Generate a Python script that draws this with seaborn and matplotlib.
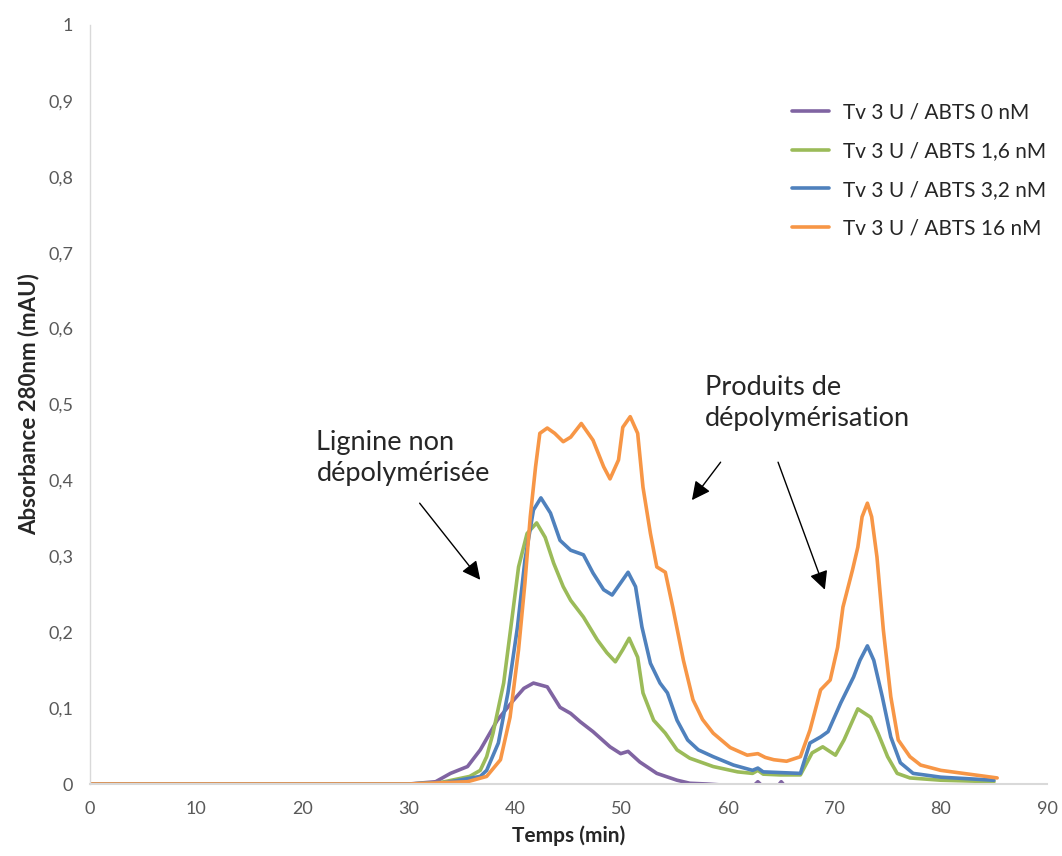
import matplotlib
matplotlib.use("Agg")
from matplotlib import pyplot as plt
import pandas as pd
import seaborn as sns

labels = ["Tv 3 U / ABTS 0 nM", "Tv 3 U / ABTS 1,6 nM",
          "Tv 3 U / ABTS 3,2 nM", "Tv 3 U / ABTS 16 nM"]
colors = ["#8064A2", "#9BBB59", "#4F81BD", "#F79646"]

# 0 nM
x0 = [0, 30, 32.5, 33.9, 35.5, 36.7, 38.3, 39.8, 40.8, 41.7, 43.0, 44.2, 45.2,
      46.1, 47.3, 48.9, 49.9, 50.6, 51.7, 53.3, 55.2, 56.4, 58.0, 62.3, 62.8,
      63.3, 64.6, 65.0, 65.4, 70, 85]
y0 = [0, 0, 0.003, 0.014, 0.023, 0.045, 0.084, 0.110, 0.126, 0.133, 0.128, 0.101,
      0.093, 0.082, 0.069, 0.049, 0.040, 0.043, 0.029, 0.014, 0.005, 0.001, 0.0,
      -0.004, 0.003, -0.004, -0.004, 0.003, -0.004, -0.005, -0.005]

# 1,6 nM
x1 = [0, 30, 33.0, 35.7, 36.7, 37.3, 37.9, 38.9, 39.7, 40.3, 41.1, 42.0, 42.8,
      43.6, 44.5, 45.2, 46.4, 47.7, 48.6, 49.4, 50.1, 50.7, 51.5, 52.0, 53.0,
      54.1, 55.2, 56.4, 58.6, 60.9, 62.3, 62.8, 63.3, 64.9, 66.8, 67.9, 68.9,
      70.1, 70.9, 72.2, 73.4, 74.1, 75.0, 75.9, 77.1, 80, 85]
y1 = [0, 0, 0.002, 0.010, 0.018, 0.036, 0.067, 0.133, 0.220, 0.286, 0.330, 0.344,
      0.325, 0.291, 0.260, 0.242, 0.220, 0.190, 0.173, 0.161, 0.177, 0.192, 0.167,
      0.120, 0.084, 0.067, 0.045, 0.034, 0.023, 0.016, 0.014, 0.018, 0.013, 0.012,
      0.012, 0.041, 0.049, 0.038, 0.058, 0.099, 0.088, 0.067, 0.036, 0.014, 0.008,
      0.005, 0.003]

# 3,2 nM
x2 = [0, 30, 33.5, 36.7, 37.3, 38.4, 39.3, 40.2, 40.9, 41.7, 42.4, 43.3, 44.2,
      45.2, 46.4, 47.3, 48.3, 49.1, 49.9, 50.6, 51.3, 51.9, 52.7, 53.6, 54.3,
      55.2, 56.2, 57.2, 58.6, 60.5, 62.3, 62.8, 63.3, 65.0, 66.8, 67.7, 68.7,
      69.4, 70.6, 71.8, 72.4, 73.1, 73.7, 74.5, 75.3, 76.2, 77.4, 80, 85]
y2 = [0, 0, 0.002, 0.010, 0.018, 0.054, 0.120, 0.207, 0.295, 0.361, 0.377, 0.357,
      0.321, 0.308, 0.302, 0.278, 0.256, 0.249, 0.265, 0.279, 0.260, 0.207, 0.159,
      0.133, 0.120, 0.084, 0.058, 0.045, 0.036, 0.025, 0.018, 0.021, 0.016, 0.015,
      0.014, 0.054, 0.062, 0.069, 0.107, 0.141, 0.163, 0.182, 0.163, 0.115, 0.062,
      0.028, 0.014, 0.009, 0.005]

# 16 nM
x3 = [0, 30, 35.5, 37.3, 38.6, 39.5, 40.3, 40.9, 41.4, 41.9, 42.3, 43.0, 43.7,
      44.5, 45.2, 46.2, 47.3, 48.3, 48.9, 49.7, 50.1, 50.8, 51.5, 52.0, 52.7,
      53.3, 54.1, 54.8, 55.8, 56.7, 57.6, 58.6, 60.2, 61.8, 62.8, 63.5, 64.3,
      65.5, 66.8, 67.7, 68.7, 69.6, 70.3, 70.8, 71.7, 72.2, 72.6, 73.1, 73.5,
      74.0, 74.6, 75.3, 76.0, 77.1, 78.1, 80, 85.3]
y3 = [0, 0, 0.003, 0.010, 0.032, 0.088, 0.177, 0.265, 0.352, 0.418, 0.462, 0.469,
      0.462, 0.451, 0.457, 0.475, 0.453, 0.418, 0.402, 0.427, 0.470, 0.484, 0.462,
      0.391, 0.330, 0.286, 0.279, 0.233, 0.163, 0.111, 0.085, 0.067, 0.048, 0.038,
      0.040, 0.035, 0.032, 0.030, 0.036, 0.071, 0.124, 0.137, 0.180, 0.233, 0.282,
      0.312, 0.352, 0.370, 0.352, 0.299, 0.203, 0.115, 0.058, 0.036, 0.025, 0.018,
      0.008]

frames = []
for lab, xs, ys in zip(labels, [x0, x1, x2, x3], [y0, y1, y2, y3]):
    frames.append(pd.DataFrame({"t": xs, "a": ys, "serie": lab}))
df = pd.concat(frames, ignore_index=True)

sns.set_style("white")
plt.rcParams["font.family"] = ["Lato", "DejaVu Sans"]

fig = plt.figure(figsize=(10.62, 8.56), dpi=100)
ax = fig.add_axes([0.0847, 0.0841, 0.9013, 0.8867])
sns.lineplot(data=df, x="t", y="a", hue="serie", palette=colors,
             estimator=None, sort=False, linewidth=2.6, ax=ax)
for ln in ax.get_lines():
    ln.set_solid_joinstyle("round")

ax.set_xlim(0, 90)
ax.set_ylim(0, 1)
ax.set_xticks(range(0, 91, 10))
ax.set_yticks([i / 10 for i in range(11)])
ax.set_yticklabels(["0"] + ["0,%d" % i for i in range(1, 10)] + ["1"])
ax.tick_params(length=0, labelsize=13, colors="#595959", pad=12)
for s in ["top", "right"]:
    ax.spines[s].set_visible(False)
ax.spines["left"].set_color("#D9D9D9")
ax.spines["bottom"].set_color("#D9D9D9")
ax.spines["left"].set_linewidth(1)
ax.spines["bottom"].set_linewidth(1.5)

ax.set_xlabel("Temps (min)", fontsize=15, fontweight="bold", labelpad=6)
ax.set_ylabel("Absorbance 280nm (mAU)", fontsize=16, fontweight="bold", labelpad=6)

ax.legend(loc="upper left", bbox_to_anchor=(0.714, 0.923), frameon=False,
          fontsize=15, handlelength=1.75, handletextpad=0.7, labelspacing=0.9)

ax.text(21.3, 0.43, "Lignine non\ndépolymérisée", fontsize=19.5, linespacing=1.3,
        va="center", ha="left")
ax.text(57.8, 0.502, "Produits de\ndépolymérisation", fontsize=19.5, linespacing=1.3,
        va="center", ha="left")

arrow = dict(arrowstyle="-|>", color="black", lw=1, mutation_scale=28,
             shrinkA=0, shrinkB=0)
ax.annotate("", xy=(36.7, 0.269), xytext=(31.0, 0.370), arrowprops=arrow)
ax.annotate("", xy=(56.6, 0.374), xytext=(59.3, 0.424), arrowprops=arrow)
ax.annotate("", xy=(69.1, 0.256), xytext=(64.7, 0.424), arrowprops=arrow)

fig.savefig("out.png", dpi=100)
